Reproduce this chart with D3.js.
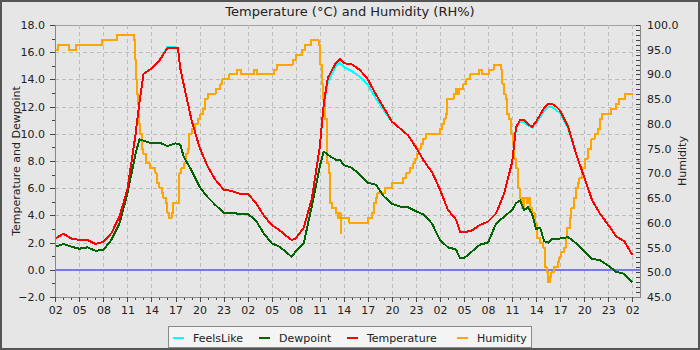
<!DOCTYPE html>
<html><head><meta charset="utf-8">
<script src="https://cdn.jsdelivr.net/npm/d3@7"></script>
<style>body{margin:0;background:#fff} svg{display:block}</style>
</head><body>
<svg id="c" width="700" height="350"></svg>
<script>
// ---- data (hours since first 02:00 tick) ----
const xTickLabels = ["02","05","08","11","14","17","20","23","02","05","08","11","14","17","20","23","02","05","08","11","14","17","20","23","02"];
const leftTicks = [-2,0,2,4,6,8,10,12,14,16,18];
const rightTicks = [45,50,55,60,65,70,75,80,85,90,95,100];
const seriesNames = ["FeelsLike","Dewpoint","Temperature","Humidity"];

const tHours = [0,1,2,3,4,5,6,7,8,9,10,10.5,11,12,13,14,15,15.3,15.6,16,17,18,19,20,21,22,23,24,25,26,27,28,29,29.5,30,31,32,33,33.5,34,35,35.5,36,37,38,39,40,41,42,43,44,45,46,47,48,49,50,50.5,51,52,53,54,55,56,57,57.5,58,58.5,59,59.5,60,60.5,61,61.5,62,62.5,63,64,65,66,67,68,69,70,71,72];
const temperature = [2.3,2.65,2.3,2.2,2.2,1.9,2.05,2.7,3.9,5.9,9.9,12.3,14.4,14.8,15.4,16.3,16.3,16.3,14.8,13.7,11.0,9.0,7.6,6.6,5.9,5.8,5.6,5.6,4.95,4.0,3.3,2.9,2.4,2.2,2.3,3.1,5.2,9.0,12.2,14.1,15.2,15.5,15.2,15.1,14.7,14.0,12.9,11.9,10.9,10.4,9.9,9.0,8.0,7.2,5.9,4.4,3.7,2.8,2.75,2.9,3.3,3.55,4.15,5.6,7.9,10.5,11.0,11.0,10.7,10.5,10.9,11.4,11.9,12.2,12.2,12.0,11.7,10.5,8.5,6.8,5.1,4.1,3.3,2.45,2.1,1.1];
const feelsLike = [2.3,2.65,2.3,2.2,2.2,1.9,2.05,2.7,3.9,5.9,9.9,12.3,14.4,14.8,15.4,16.4,16.35,16.3,14.8,13.7,11.0,9.0,7.6,6.6,5.9,5.8,5.6,5.6,4.95,4.0,3.3,2.9,2.4,2.2,2.3,3.1,5.2,9.0,12.1,13.8,15.0,15.25,14.9,14.6,14.2,13.6,12.6,11.7,10.9,10.4,9.9,9.0,8.0,7.2,5.9,4.4,3.7,2.8,2.75,2.9,3.3,3.55,4.15,5.6,7.9,10.45,10.9,10.85,10.6,10.45,10.8,11.25,11.7,11.95,11.95,11.75,11.5,10.4,8.5,6.8,5.1,4.1,3.3,2.45,2.1,1.1];
const dewpoint = [1.7,1.9,1.7,1.55,1.65,1.4,1.45,2.2,3.4,5.6,8.5,9.6,9.5,9.3,9.35,9.1,9.3,9.25,9.2,8.35,7.3,6.1,5.35,4.75,4.2,4.2,4.1,4.1,3.65,2.7,1.95,1.7,1.2,0.95,1.35,1.95,4.65,7.6,8.7,8.45,8.1,8.1,7.7,7.5,7.0,6.4,6.25,5.4,4.85,4.65,4.6,4.3,4.05,3.4,2.2,1.65,1.5,0.85,0.85,1.35,1.85,2.0,3.4,3.9,4.4,4.9,5.1,4.4,4.6,4.1,3.0,3.1,2.1,2.0,2.3,2.3,2.3,2.4,1.95,1.35,0.8,0.7,0.3,-0.15,-0.3,-0.9];

const humHours = [0,0.35,1.7,2.6,5.8,7.7,8.0,9.8,9.95,10.1,10.2,10.35,10.5,10.6,10.8,11,11.3,11.8,12.5,12.7,13,13.3,13.5,13.8,14,14.2,14.5,14.7,15.45,15.7,16.1,16.3,16.5,16.7,17.0,17.4,17.8,18.1,18.4,18.7,19,20,20.6,20.8,21.7,22.7,23.2,24.8,25.2,27.3,27.7,29.7,30,30.8,31.2,31.9,32.85,33.05,33.25,33.45,33.65,33.9,34.1,34.3,34.5,35,35.3,35.5,35.6,35.7,36.7,39,39.5,39.8,40,40.2,41.1,42,43.4,43.8,44.2,44.6,44.9,45.1,45.4,45.6,45.9,46.2,48,48.3,48.5,48.7,48.9,49.7,50,50.3,50.4,50.9,51.25,51.75,52.9,53.2,54.1,54.7,55.65,55.8,56,56.2,56.4,56.65,56.9,57.1,57.3,57.5,57.7,57.95,58.2,58.45,58.8,59,59.2,59.5,59.8,60.05,60.5,60.9,61.05,61.3,61.5,61.7,61.9,62.2,62.7,62.9,63.1,63.5,63.7,63.9,64.2,64.4,64.7,65,65.2,65.4,65.75,66.1,66.5,66.9,67.3,67.7,68,68.2,69.35,70,70.3,71.05,72.1];
const humidity = [95,96,95,96,97,98,98,97,93,89,86,84,80,78,75,74,72,71,70,68,67,66,65,64,62,61,62,64,70,71,72,74,75,78,79,80,81,82,83,85,86,87,88,89,90,91,90,91,90,91,92,93,94,95,96,97,96,92,88,85,81,72,70,64,63,62,61,62,58,61,60,61,62,64,65,66,67,68,69,70,71,72,73,74,75,76,77,78,79,80,81,82,85,86,87,86,87,88,89,90,91,90,91,92,91,88,86,85,82,81,78,76,73,71,67,65,63,65,64,65,63,62,60,57,56,55,51,50,48,49,50,51,52,53,54,55,57,59,61,63,65,67,68,69,71,73,75,77,78,79,81,82,83,84,85,86,86];

// ---- layout ----
const svg = d3.select("#c");
const FONT = "DejaVu Sans, Verdana, sans-serif";
const P = {l:55, t:25, r:640, b:297};
const x = d3.scaleLinear().domain([0,72]).range([55.3,632.3]);
const yL = d3.scaleLinear().domain([-2,18]).range([P.b,P.t]);
const yR = d3.scaleLinear().domain([45,100]).range([P.b,P.t]);

svg.append("rect").attr("x",0).attr("y",0).attr("width",700).attr("height",350).attr("fill","#e6e6e6");
svg.append("rect").attr("x",1).attr("y",1).attr("width",698).attr("height",348)
  .attr("fill","none").attr("stroke","#555").attr("stroke-width",2);

// plot background
svg.append("rect").attr("x",P.l).attr("y",P.t).attr("width",P.r-P.l).attr("height",P.b-P.t)
  .attr("fill","#e6e6e6").attr("stroke","#a0a0a0").attr("stroke-width",1).attr("shape-rendering","crispEdges");

// grid
const grid = svg.append("g").attr("stroke","#bdbdbd").attr("stroke-width",1).attr("stroke-dasharray","4,3").attr("shape-rendering","crispEdges");
leftTicks.forEach(v=>{ if(v>-2 && v<18) grid.append("line").attr("x1",P.l).attr("x2",P.r).attr("y1",Math.round(yL(v))+0.5).attr("y2",Math.round(yL(v))+0.5); });
xTickLabels.forEach((s,i)=>{ const xv=Math.round(x(i*3))+0.5; if(i>0) grid.append("line").attr("x1",xv).attr("x2",xv).attr("y1",P.t).attr("y2",P.b); });

// zero marker
svg.append("line").attr("x1",P.l).attr("x2",P.r).attr("y1",yL(0)).attr("y2",yL(0))
  .attr("stroke","#7878ee").attr("stroke-width",2).attr("shape-rendering","crispEdges");

// series
svg.append("clipPath").attr("id","pc").append("rect")
  .attr("x",P.l).attr("y",P.t).attr("width",P.r-P.l).attr("height",P.b-P.t);
const lines = svg.append("g").attr("clip-path","url(#pc)").attr("fill","none").attr("stroke-width",2)
  .attr("stroke-linejoin","round").attr("shape-rendering","crispEdges");
const lineL = d3.line().x(d=>x(d[0])).y(d=>yL(d[1]));
const lineH = d3.line().x(d=>x(d[0])).y(d=>yR(d[1])).curve(d3.curveStepAfter);
lines.append("path").datum(d3.zip(humHours,humidity)).attr("d",lineH).attr("stroke","#ffa500");
lines.append("path").datum(d3.zip(tHours,feelsLike)).attr("d",lineL).attr("stroke","#00ffff");
lines.append("path").datum(d3.zip(tHours,dewpoint)).attr("d",lineL).attr("stroke","#006400");
lines.append("path").datum(d3.zip(tHours,temperature)).attr("d",lineL).attr("stroke","#ff0000");

// axes
function styleAxis(g){
  g.select(".domain").attr("stroke","#888").attr("shape-rendering","crispEdges");
  g.selectAll(".tick line").attr("stroke","#444").attr("shape-rendering","crispEdges");
  g.selectAll("text").attr("fill","#222").style("font-family",FONT).style("font-size","11px");
}
function styleMinor(g){ g.select(".domain").remove(); g.selectAll(".tick line").attr("stroke","#444").attr("shape-rendering","crispEdges"); }
// left
svg.append("g").attr("transform",`translate(${P.l},0)`)
  .call(d3.axisLeft(yL).tickValues(d3.range(-2,18.01,1)).tickSize(3).tickFormat(""))
  .call(styleMinor);
svg.append("g").attr("transform",`translate(${P.l},0)`)
  .call(d3.axisLeft(yL).tickValues(leftTicks).tickSize(5).tickPadding(5).tickFormat(d3.format(".1f")))
  .call(styleAxis);
// right
svg.append("g").attr("transform",`translate(${P.r},0)`)
  .call(d3.axisRight(yR).tickValues(d3.range(45,100.01,1)).tickSize(-4).tickFormat(""))
  .call(styleMinor);
svg.append("g").attr("transform",`translate(${P.r},0)`)
  .call(d3.axisRight(yR).tickValues(rightTicks).tickSize(-4).tickPadding(7).tickFormat(d3.format(".1f")))
  .call(styleAxis);
// bottom
svg.append("g").attr("transform",`translate(0,${P.b})`)
  .call(d3.axisBottom(x).tickValues(d3.range(0,73,1)).tickSize(3).tickFormat(""))
  .call(styleMinor);
svg.append("g").attr("transform",`translate(0,${P.b})`)
  .call(d3.axisBottom(x).tickValues(d3.range(0,73,3)).tickSize(5).tickPadding(4).tickFormat((d,i)=>xTickLabels[i]))
  .call(styleAxis)
  .call(g=>g.select(".domain").attr("d",`M${P.l},0.5H${P.r}`));

// titles
svg.append("text").attr("x",350).attr("y",16).attr("text-anchor","middle")
  .style("font-family",FONT).style("font-size","13px").attr("fill","#222")
  .text("Temperature (°C) and Humidity (RH%)");
svg.append("text").attr("transform",`translate(20,${(P.t+P.b)/2}) rotate(-90)`).attr("text-anchor","middle")
  .style("font-family",FONT).style("font-size","11px").attr("fill","#222")
  .text("Temperature and Dewpoint");
svg.append("text").attr("transform",`translate(686,${(P.t+P.b)/2}) rotate(-90)`).attr("text-anchor","middle")
  .style("font-family",FONT).style("font-size","11px").attr("fill","#222")
  .text("Humidity");

// legend
const legColors = ["#00ffff","#006400","#ff0000","#ffa500"];
const legX = [173,259,347,457];
svg.append("rect").attr("x",168.5).attr("y",326.5).attr("width",363).attr("height",21)
  .attr("fill","#f4f4f4").attr("stroke","#888");
seriesNames.forEach((n,i)=>{
  svg.append("line").attr("x1",legX[i]).attr("x2",legX[i]+11).attr("y1",338).attr("y2",338)
    .attr("stroke",legColors[i]).attr("stroke-width",2).attr("shape-rendering","crispEdges");
  svg.append("text").attr("x",legX[i]+20).attr("y",341.5)
    .style("font-family",FONT).style("font-size","11px").attr("fill","#222").text(n);
});
</script>
</body></html>
